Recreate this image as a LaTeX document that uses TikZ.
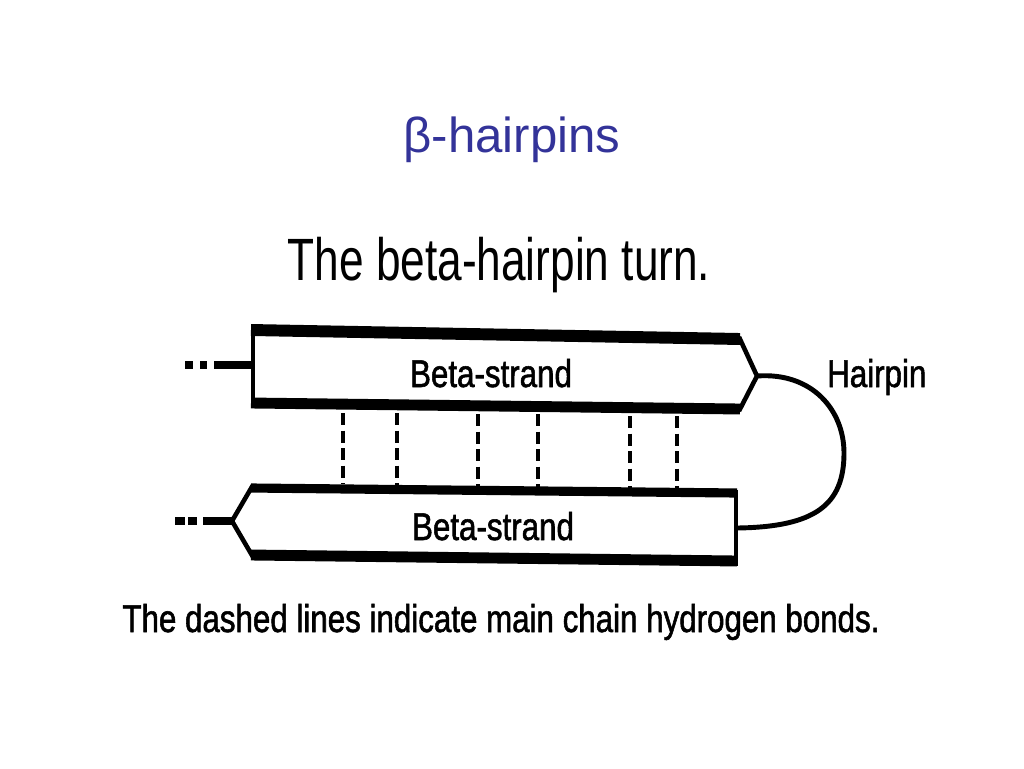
\documentclass[tikz,border=0pt]{standalone}
\usepackage{fontspec}
\setmainfont{Liberation Sans}
\newfontfamily\narrowfont[FakeStretch=0.81, FakeBold=1.4]{Liberation Sans}
\newfontfamily\headfont[FakeStretch=0.74]{Liberation Sans}
\definecolor{slideblue}{RGB}{51,51,153}

\begin{document}
\begin{tikzpicture}[x=0.02cm, y=-0.02cm,
		txt/.style={anchor=base, font=\narrowfont\fontsize{22}{26}\selectfont},
		hbond/.style={line width=2.1pt, dash pattern=on 7pt off 3pt}]
		\useasboundingbox (0,0) rectangle (1024,768);
		
		\node[anchor=base, text=slideblue, font=\fontsize{28}{34}\selectfont] (title) at (512,152) {β-hairpins};
		\node[anchor=base, font=\headfont\fontsize{34}{40}\selectfont] (head) at (499,280) {The beta-hairpin turn.};
		
		% primeira fita
		\draw[line width=6.8pt] (251,330) -- (740,339);
		\draw[line width=6.2pt] (251,403) -- (740,409);
		\draw[line width=2.3pt] (253,325) -- (253,407);
		\draw[line width=2.6pt] (739,337) -- (757,376) -- (739,411);
		\draw[line width=5pt] (214,365) -- (253,365);
		\draw[line width=4.5pt] (185,365) -- (193,365);
		\draw[line width=4.5pt] (200,365) -- (207,365);
		\node[txt] (upper) at (491,387) {Beta-strand};
		
		% segunda fita
		\draw[line width=5.2pt] (251,488) -- (737,493);
		\draw[line width=6.2pt] (251,555) -- (737,561);
		\draw[line width=1.8pt] (736,490) -- (736,566);
		\draw[line width=2.6pt] (253,485) -- (232,521) -- (253,557);
		\draw[line width=5pt] (203,521) -- (232,521);
		\draw[line width=4.5pt] (175,521) -- (185,521);
		\draw[line width=4.5pt] (188,521) -- (197,521);
		\node[txt] (lower) at (493,540) {Beta-strand};
		
		% pontes de hidrogenio
		\draw[hbond] (343,413) -- (343,484);
		\draw[hbond] (397,413) -- (397,485);
		\draw[hbond] (478,414) -- (478,486);
		\draw[hbond] (538,414) -- (538,487);
		\draw[hbond] (630,416) -- (630,489);
		\draw[hbond] (677,416) -- (677,490);
		
		% volta
		\coordinate (tip) at (757,376);
		\coordinate (back) at (737,528);
		\draw[line width=2.8pt] (tip) .. controls (812,372) and (844,410) .. (844,453)
			.. controls (844,505) and (815,527) .. (back);
		\node[txt, anchor=base west] (hairpin) at (821,387) {Hairpin};
		
		\node[txt] (caption) at (501,632) {The dashed lines indicate main chain hydrogen bonds.};
	\end{tikzpicture}
\end{document}
